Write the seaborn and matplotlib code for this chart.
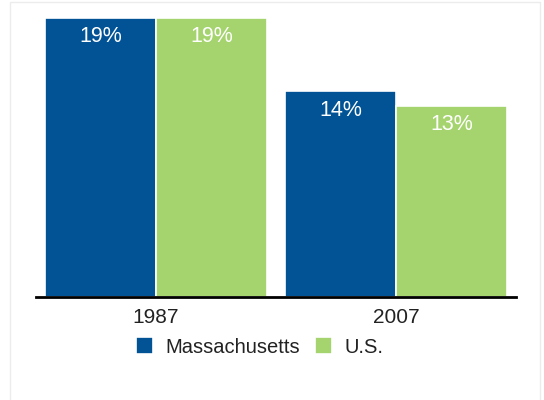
import pandas as pd
import matplotlib.pyplot as plt
import seaborn as sns
from matplotlib.patches import Rectangle

# ---------------------------------------
# Data
# ---------------------------------------
years = ["1987", "2007"]
regions = ["Massachusetts", "U.S."]
ma_values = [19, 14]
us_values = [19, 13]
colors = ["#015396", "#a5d46e"]

df = pd.DataFrame({
    "year": years * 2,
    "region": [regions[0]] * 2 + [regions[1]] * 2,
    "value": ma_values + us_values,
})

# ---------------------------------------
# Plot
# ---------------------------------------
sns.set_theme(style="white")
plt.rcParams["font.family"] = ["Liberation Sans", "DejaVu Sans"]

fig = plt.figure(figsize=(5.44, 4.0), dpi=100)

# faint panel border behind the chart
fig.patches.append(Rectangle((10 / 544, -0.05), 530 / 544, 1 - 2 / 400 + 0.05,
                             transform=fig.transFigure, facecolor="white",
                             edgecolor="#ececec", linewidth=1, zorder=-1))

ax = fig.add_axes([36 / 544, 1 - 297 / 400, 480 / 544, 279 / 400])
ax.patch.set_alpha(0)

sns.barplot(data=df, x="year", y="value", hue="region", palette=colors,
            saturation=1, width=0.925, edgecolor="white", linewidth=1.2, ax=ax)

ax.set_xlim(-0.5, 1.5)
ax.set_ylim(0, 19)

# white percentage labels inside the top of each bar
for container in ax.containers:
    ax.bar_label(container, labels=[f"{v:g}%" for v in container.datavalues],
                 padding=-21, color="white", fontsize=15.5)

for side in ["top", "right", "left"]:
    ax.spines[side].set_visible(False)
ax.spines["bottom"].set_color("black")
ax.spines["bottom"].set_linewidth(2)
ax.set_yticks([])
ax.set_xlabel("")
ax.set_ylabel("")
ax.tick_params(axis="x", length=0, pad=8, labelsize=15, labelcolor="#222222")

handles, labels = ax.get_legend_handles_labels()
ax.get_legend().remove()
fig.legend(handles, labels, loc="center", bbox_to_anchor=(0.477, 0.1325),
           ncol=2, frameon=False, fontsize=14.5, handlelength=0.85,
           handleheight=0.85, handletextpad=0.6, columnspacing=0.75,
           labelcolor="#222222")

fig.savefig("out.png", dpi=100)
